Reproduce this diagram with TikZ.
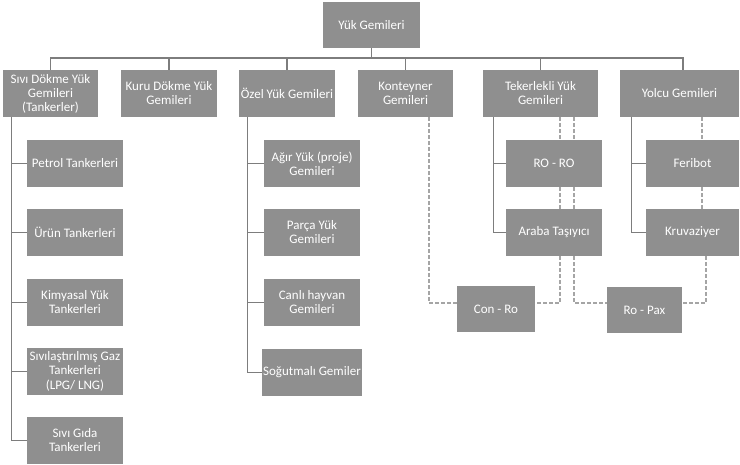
\documentclass[tikz,border=0pt]{standalone}
\usepackage{fontspec}
\setmainfont{Carlito}
\definecolor{boxgray}{RGB}{143,143,143}
\definecolor{linegray}{RGB}{125,125,125}
\definecolor{dashgray}{RGB}{165,165,165}
\begin{document}
\begin{tikzpicture}[x=1pt,y=-1pt,
  box/.style={fill=boxgray,draw=none,text=white,align=center,inner sep=1pt,
    font=\fontsize{13}{14}\selectfont,minimum height=47pt},
  tree/.style={draw=linegray,line width=1.3pt},
  dsh/.style={draw=dashgray,line width=1.1pt,dash pattern=on 3.5pt off 2.5pt}]
\useasboundingbox (0,0) rectangle (740,465);
% top
\node[box,minimum width=97pt,minimum height=46pt] (top) at (371.5,25) {Yük Gemileri};
% level 2
\node[box,minimum width=95pt] (s1) at (50.5,93.5) {Sıvı Dökme Yük\\Gemileri\\(Tankerler)};
\node[box,minimum width=96pt] (s2) at (169,93.5) {Kuru Dökme Yük\\Gemileri};
\node[box,minimum width=96pt] (s3) at (287,93.5) {Özel Yük Gemileri};
\node[box,minimum width=95pt] (s4) at (405.5,93.5) {Konteyner\\Gemileri};
\node[box,minimum width=115pt] (s5) at (540.5,93.5) {Tekerlekli Yük\\Gemileri};
\node[box,minimum width=119pt] (s6) at (679.5,93.5) {Yolcu Gemileri};
% left column
\node[box,minimum width=96pt] (a1) at (75,163.5) {Petrol Tankerleri};
\node[box,minimum width=96pt] (a2) at (75,232.5) {Ürün Tankerleri};
\node[box,minimum width=96pt] (a3) at (75,302.5) {Kimyasal Yük\\Tankerleri};
\node[box,minimum width=96pt] (a4) at (75,371.5) {Sıvılaştırılmış Gaz\\Tankerleri\\[1pt](LPG/ LNG)};
\node[box,minimum width=96pt] (a5) at (75,440.5) {Sıvı Gıda\\Tankerleri};
% ozel column
\node[box,minimum width=96pt] (b1) at (312,163.5) {Ağır Yük (proje)\\Gemileri};
\node[box,minimum width=96pt] (b2) at (312,232.5) {Parça Yük\\Gemileri};
\node[box,minimum width=96pt] (b3) at (312,302.5) {Canlı hayvan\\Gemileri};
\node[box,minimum width=96pt] (b4) at (312,372.5) {Soğutmalı Gemiler};
% tekerlekli
\node[box,minimum width=96pt] (t1) at (554,163.5) {RO - RO};
\node[box,minimum width=96pt] (t2) at (554,232.5) {Araba Taşıyıcı};
% yolcu
\node[box,minimum width=93pt] (y1) at (692.5,163.5) {Feribot};
\node[box,minimum width=93pt] (y2) at (692.5,232.5) {Kruvaziyer};
% bottom
\node[box,minimum width=78pt,minimum height=46pt] (cr) at (496,309) {Con - Ro};
\node[box,minimum width=75pt,minimum height=46pt] (rp) at (644.5,310) {Ro - Pax};
% bus
\coordinate (bus) at (0,58);
\draw[tree] (top.south) -- (top.south |- bus);
\draw[tree] (s1.north) -- (s1.north |- bus) -- ([xshift=3.5pt]s6.north |- bus) -- ([xshift=3.5pt]s6.north);
\foreach \n in {s2,s3,s4,s5} \draw[tree] (\n.north) -- (\n.north |- bus);
% left vertical
\coordinate (lv) at ([xshift=9pt]s1.south west);
\draw[tree] (lv) |- (a5.west);
\foreach \n in {a1,a2,a3,a4} \draw[tree] (lv |- \n.west) -- (\n.west);
% ozel vertical
\coordinate (ov) at ([xshift=9pt]s3.south west);
\draw[tree] (ov) |- (b4.west);
\foreach \n in {b1,b2,b3} \draw[tree] (ov |- \n.west) -- (\n.west);
% tekerlekli vertical
\coordinate (tv) at ([xshift=11pt]s5.south west);
\draw[tree] (tv) |- (t2.west);
\draw[tree] (tv |- t1.west) -- (t1.west);
% yolcu vertical
\coordinate (yv) at ([xshift=12pt]s6.south west);
\draw[tree] (yv) |- (y2.west);
\draw[tree] (yv |- y1.west) -- (y1.west);
% dashed
\coordinate (dl) at (0,303);
\coordinate (d1) at (429,0);
\coordinate (d2) at (560,0);
\coordinate (d3) at (574,0);
\coordinate (d4) at (702,0);
\coordinate (d5) at (706,0);
\draw[dsh] (d1 |- s4.south) -- (d1 |- dl) -- (cr.west |- dl);
\draw[dsh] (d2 |- s5.south) -- (d2 |- t1.north);
\draw[dsh] (d2 |- t1.south) -- (d2 |- t2.north);
\draw[dsh] (d2 |- t2.south) -- (d2 |- dl) -- (cr.east |- dl);
\draw[dsh] (d3 |- s5.south) -- (d3 |- t1.north);
\draw[dsh] (d3 |- t1.south) -- (d3 |- t2.north);
\draw[dsh] (d3 |- t2.south) -- (d3 |- dl) -- (rp.west |- dl);
\draw[dsh] (d4 |- s6.south) -- (d4 |- y1.north);
\draw[dsh] (d4 |- y1.south) -- (d4 |- y2.north);
\draw[dsh] (d5 |- y2.south) -- (d5 |- dl) -- (rp.east |- dl);
\end{tikzpicture}
\end{document}
